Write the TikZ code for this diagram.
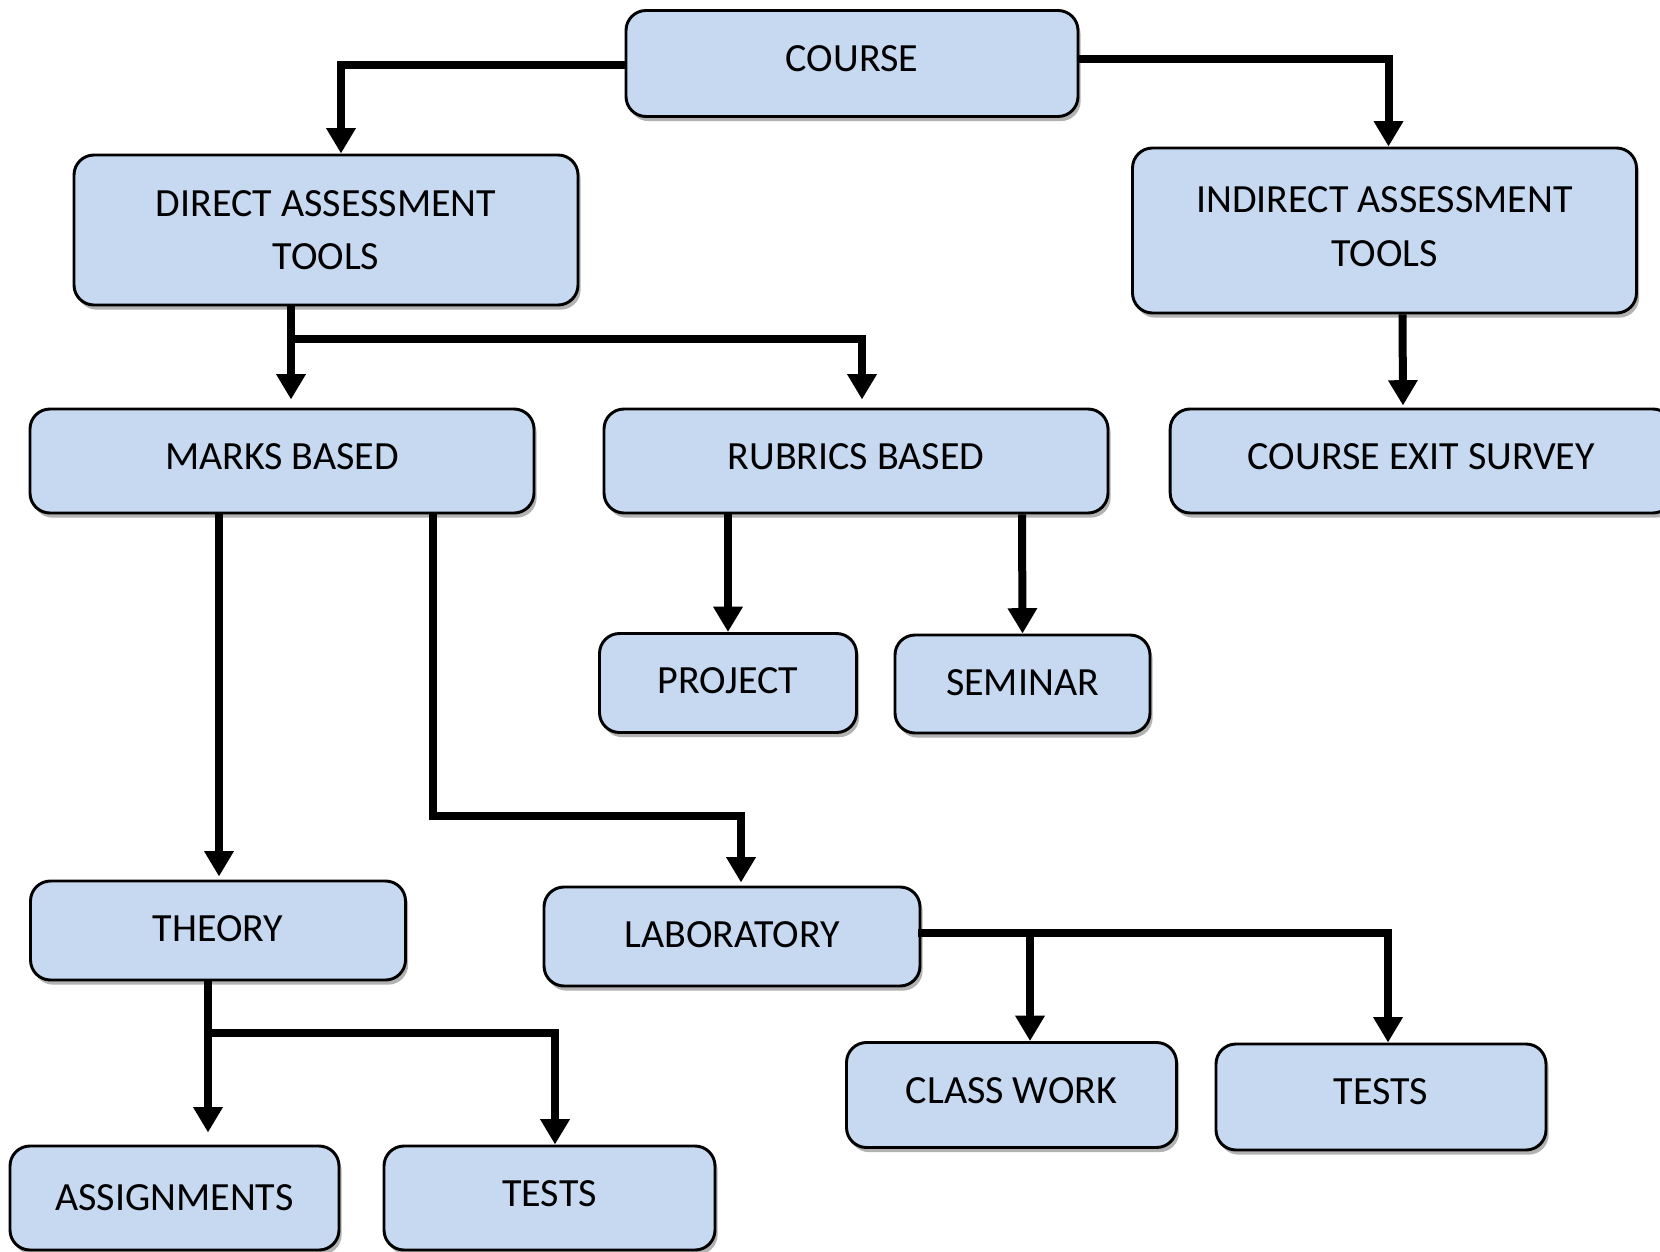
\documentclass[tikz,border=0pt]{standalone}
\usepackage{fontspec}
\setmainfont{Carlito}
\usetikzlibrary{arrows.meta,calc,shadows}
\definecolor{boxblue}{HTML}{C6D9F0}
\begin{document}
\begin{tikzpicture}[x=0.75pt,y=-0.75pt,
  box/.style={rectangle, rounded corners=15pt, draw=black, line width=2.2pt,
    fill=boxblue, inner sep=0pt, align=center,
    font=\fontsize{30}{40}\selectfont,
    drop shadow={shadow xshift=2pt, shadow yshift=-3.5pt, fill=black, opacity=0.3}},
  arr/.style={line width=6pt, -{Triangle[width=21pt,length=19pt]}},
  ln/.style={line width=6pt}]
\fill[white] (0,0) rectangle (1660,1252);
\useasboundingbox (0,0) rectangle (1660,1252);

\node[box, minimum width=339pt, minimum height=79.5pt, text depth=7.5pt] (course) at (852,63.5) {COURSE};
\node[box, minimum width=378pt, minimum height=112.5pt] (direct) at (326,230) {DIRECT ASSESSMENT\\TOOLS};
\node[box, minimum width=378pt, minimum height=123.75pt, text depth=6pt] (indirect) at (1384.5,230.5) {INDIRECT ASSESSMENT\\TOOLS};
\node[box, minimum width=378pt, minimum height=78pt, text depth=6pt] (marks) at (282,461) {MARKS BASED};
\node[box, minimum width=378pt, minimum height=78pt, text depth=6pt] (rubrics) at (856,461) {RUBRICS BASED};
\node[box, minimum width=377pt, minimum height=78pt, text depth=6pt] (exit) at (1421.5,461) {COURSE EXIT SURVEY};
\node[box, minimum width=192.75pt, minimum height=74.25pt, text depth=3pt] (project) at (728,683) {PROJECT};
\node[box, minimum width=191.25pt, minimum height=73.5pt, text depth=1.5pt] (seminar) at (1022.5,684) {SEMINAR};
\node[box, minimum width=281.25pt, minimum height=74.25pt, text depth=3pt] (theory) at (218,930.5) {THEORY};
\node[box, minimum width=282pt, minimum height=74.25pt, text depth=3pt] (lab) at (732,936.5) {LABORATORY};
\node[box, minimum width=247.5pt, minimum height=78.75pt, text depth=6pt] (classwork) at (1011.5,1095) {CLASS WORK};
\node[box, minimum width=247.5pt, minimum height=79.5pt, text depth=7.5pt] (tests2) at (1381,1097) {TESTS};
\node[box, minimum width=246.75pt, minimum height=78pt] (assign) at (174.5,1198) {ASSIGNMENTS};
\node[box, minimum width=248.25pt, minimum height=78pt, text depth=6pt] (tests1) at (549.5,1198) {TESTS};

% connectors
\draw[arr] ($(course.west)+(0,2)$) -| ($(direct.north)+(15,0)$);
\draw[arr] ($(course.east)+(0,-4)$) -| ($(indirect.north)+(4,0)$);
\draw[arr] ($(direct.south)+(-35,0)$) -- ($(marks.north)+(9,-8)$);
\draw[arr] ($(direct.south)+(-35,0)$) -- ++(0,33) -| ($(rubrics.north)+(6,-8)$);
\draw[arr] ($(indirect.south)+(18,0)$) -- ($(exit.north)+(-18.5,-2)$);
\draw[arr] ($(marks.south)+(-63,0)$) -- ($(theory.north)+(1,-3)$);
\draw[arr] ($(marks.south)+(151,0)$) -- ++(0,302) -| ($(lab.north)+(9,-3)$);
\draw[arr] ($(rubrics.south)+(-128,0)$) -- (project.north);
\draw[arr] ($(rubrics.south)+(166,0)$) -- (seminar.north);
\draw[arr] ($(theory.south)+(-10,0)$) -- ($(assign.north)+(33.5,-12)$);
\draw[arr] ($(theory.south)+(-10,0)$) -- ++(0,52) -| ($(tests1.north)+(5.5,0)$);
\draw[arr] ($(lab.east)+(-3,-3.5)$) -| ($(classwork.north)+(18.5,0)$);
\draw[arr] ($(lab.east)+(-3,-3.5)$) -| ($(tests2.north)+(7,0)$);
\end{tikzpicture}
\end{document}
